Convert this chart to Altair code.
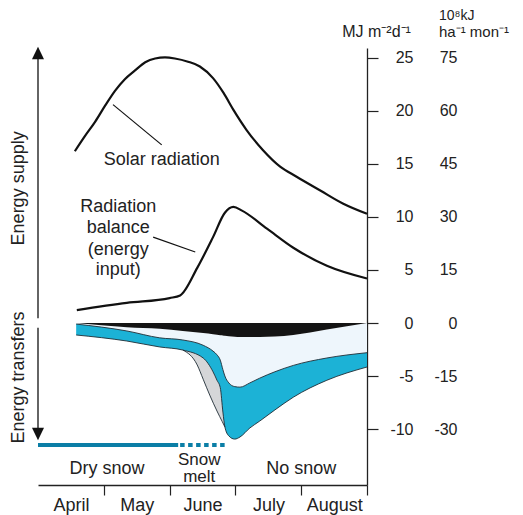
import altair as alt
import pandas as pd

# ---------------- data (x = months since 1 April, y = MJ m-2 d-1) ----------------
MONTHS = ["April", "May", "June", "July", "August"]
MONTH_TICKS = [0, 1, 2, 3, 4, 5]
Y_TICKS = [-10, -5, 0, 5, 10, 15, 20, 25]

solar_m = [0.56, 0.71, 0.87, 1.02, 1.17, 1.32, 1.47, 1.63, 1.78, 1.93, 2.08, 2.28, 2.46,
           2.66, 2.82, 2.97, 3.17, 3.42, 3.68, 3.93, 4.29, 4.64, 5.0]
solar_v = [16.2, 17.6, 19.0, 20.5, 21.9, 23.0, 23.8, 24.6, 24.95, 25.05, 24.95, 24.65, 24.2,
           23.1, 21.7, 20.1, 18.2, 16.3, 14.75, 13.8, 12.5, 11.25, 10.3]

balance_m = [0.59, 1.35, 2.0, 2.16, 2.42, 2.66, 2.84, 2.97, 3.10, 3.48, 3.88, 4.39, 5.0]
balance_v = [1.22, 1.9, 2.35, 2.6, 5.2, 8.1, 10.4, 10.95, 10.6, 8.9, 7.1, 5.4, 4.2]

band_m = [0.58, 1.35, 1.85, 2.20, 2.51, 2.66, 2.72, 2.77, 2.81, 2.84, 2.90, 2.99, 3.07,
          3.22, 3.37, 3.60, 3.88, 4.39, 5.0]
black_v = [0.0, -0.40, -0.55, -0.75, -0.95, -1.05, -1.10, -1.15, -1.17, -1.20, -1.25, -1.30,
           -1.32, -1.33, -1.32, -1.28, -1.13, -0.62, 0.0]
upper_v = [-0.10, -0.75, -1.40, -1.60, -2.10, -2.65, -3.00, -3.50, -4.40, -5.00, -5.65, -6.00,
           -6.05, -5.65, -5.20, -4.60, -4.00, -3.30, -2.80]
lower_v = [-1.13, -1.70, -2.26, -2.55, -3.30, -4.60, -5.40, -6.10, -8.40, -9.80, -10.65, -10.95,
           -10.75, -9.90, -9.25, -8.20, -7.00, -5.40, -4.15]
zero_v = [0.0] * len(band_m)

gray_m = [2.20, 2.42, 2.51, 2.61, 2.72, 2.80, 2.84]
gray_outer = [-2.55, -3.96, -5.30, -6.80, -8.30, -9.30, -9.80]
gray_inner = [-2.40, -2.80, -3.00, -3.50, -4.50, -6.00, -9.00]

labels_text = ["Solar radiation", "Radiation", "balance", "(energy", "input)",
               "Dry snow", "No snow"]
labels_m = [1.88, 1.22, 1.22, 1.22, 1.22, 1.05, 4.0]
labels_v = [14.9, 10.5, 8.5, 6.4, 4.5, -14.25, -14.25]

melt_text = ["Snow", "melt"]
melt_m = [2.45, 2.45]
melt_v = [-13.35, -15.0]

side_text = ["Energy supply", "Energy transfers"]
side_m = [-0.29, -0.29]
side_v = [12.7, -5.14]

leader_m = [1.14, 1.75]
leader_m2 = [1.88, 2.39]
leader_v = [20.6, 8.1]
leader_v2 = [16.8, 6.7]

arrow_m = [0.0, 0.0]
arrow_v = [0.45, -0.45]
arrow_v2 = [25.0, -10.0]
head_up = (0.0, 25.47)
head_down = (0.0, -10.47)

snow_solid = (0.0, 2.13, -11.5)
snow_melt = (2.16, 2.86, -11.5)

unit_left = ["MJ m\u207b\u00b2d\u207b\u00b9"]
unit_left_pos = (5.145, 26.98)
unit_top = ["10\u2078kJ"]
unit_top_pos = (6.094, 28.58)
unit_bottom = ["ha\u207b\u00b9 mon\u207b\u00b9"]
unit_bottom_pos = (6.094, 26.98)

# ---------------- styling ----------------
FONT = "Liberation Sans"
INK = "#222222"
BLUE = "#1cb2d6"
LIGHT = "#eef6fc"
GRAY = "#d5d6d8"
TEAL = "#0b7ea6"
OUTLINE = "#1f2d36"

XS = alt.Scale(domain=[0, 5], nice=False, zero=False)
YS = alt.Scale(domain=[-15.28, 25.94], nice=False, zero=False)

x_axis = alt.Axis(
    values=MONTH_TICKS,
    labelExpr="['April','May','June','July','August',''][datum.value]",
    labelOffset=33, labelFlush=False, labelPadding=1,
    labelFont=FONT, labelFontSize=18, labelColor=INK,
    tickSize=10, tickColor=INK, tickWidth=1.2,
    tickOpacity={"condition": {"test": "datum.value === 0", "value": 0}, "value": 1},
    domainColor=INK, domainWidth=1.3, grid=False, title=None, labelOverlap=False)

y_axis = alt.Axis(
    values=Y_TICKS, orient="right", labelExpr="'' + datum.value",
    labelAlign="right", labelBaseline="middle", labelPadding=35,
    labelFont=FONT, labelFontSize=16, labelColor=INK,
    tickSize=11, tickColor=INK, tickWidth=1.2,
    domainColor=INK, domainWidth=1.3, grid=False, title=None, labelOverlap=False)

y_axis2 = alt.Axis(
    values=Y_TICKS, orient="right", labelExpr="'' + (datum.value * 3)",
    labelAlign="right", labelBaseline="middle", labelPadding=90,
    labelFont=FONT, labelFontSize=16, labelColor=INK,
    ticks=False, tickSize=0, domain=False, grid=False, title=None, labelOverlap=False)


def X(field="m"):
    return alt.X(f"{field}:Q", scale=XS, axis=x_axis)


def Y(field):
    return alt.Y(f"{field}:Q", scale=YS, axis=None)


def one(text, pos):
    return pd.DataFrame({"t": text, "m": [pos[0]], "v": [pos[1]]})


band = pd.DataFrame({"m": band_m, "b": black_v, "u": upper_v, "l": lower_v, "z": zero_v})
gray = pd.DataFrame({"m": gray_m, "g": gray_outer, "i": gray_inner})
solar = pd.DataFrame({"m": solar_m, "v": solar_v})
balance = pd.DataFrame({"m": balance_m, "v": balance_v})

light_area = alt.Chart(band).mark_area(color=LIGHT, interpolate="monotone").encode(
    x=X(), y=Y("b"), y2="u:Q")
gray_area = alt.Chart(gray).mark_area(color=GRAY, interpolate="monotone").encode(
    x=X(), y=Y("g"), y2="i:Q")
blue_area = alt.Chart(band).mark_area(color=BLUE, interpolate="monotone").encode(
    x=X(), y=Y("u"), y2="l:Q")
black_area = alt.Chart(band).mark_area(color="#141414", interpolate="monotone").encode(
    x=X(), y=Y("z"), y2="b:Q")
upper_line = alt.Chart(band).mark_line(color=OUTLINE, strokeWidth=0.9, interpolate="monotone").encode(
    x=X(), y=Y("u"))
lower_line = alt.Chart(band).mark_line(color=OUTLINE, strokeWidth=0.9, interpolate="monotone").encode(
    x=X(), y=Y("l"))
gray_line = alt.Chart(gray).mark_line(color=OUTLINE, strokeWidth=0.9, interpolate="monotone").encode(
    x=X(), y=Y("g"))

solar_line = alt.Chart(solar).mark_line(color="#111111", strokeWidth=2.2, interpolate="monotone").encode(
    x=X(), y=alt.Y("v:Q", scale=YS, axis=y_axis))
second_axis = alt.Chart(solar).mark_line(opacity=0).encode(
    x=X(), y=alt.Y("v:Q", scale=YS, axis=y_axis2))
balance_line = alt.Chart(balance).mark_line(color="#111111", strokeWidth=2.2, interpolate="monotone").encode(
    x=X(), y=Y("v"))

leaders = alt.Chart(pd.DataFrame({"m": leader_m, "m2": leader_m2, "v": leader_v, "v2": leader_v2})).mark_rule(
    color="#111111", strokeWidth=1.2).encode(x=X(), x2="m2:Q", y=Y("v"), y2="v2:Q")

arrows = alt.Chart(pd.DataFrame({"m": arrow_m, "v": arrow_v, "v2": arrow_v2})).mark_rule(
    color="#111111", strokeWidth=1.3).encode(x=X(), y=Y("v"), y2="v2:Q")
head1 = alt.Chart(pd.DataFrame({"m": [head_up[0]], "v": [head_up[1]]})).mark_point(
    shape="M0,-1L0.95,1L-0.95,1Z", filled=True, color="#111111", size=160, opacity=1).encode(x=X(), y=Y("v"))
head2 = alt.Chart(pd.DataFrame({"m": [head_down[0]], "v": [head_down[1]]})).mark_point(
    shape="M0,1L0.95,-1L-0.95,-1Z", filled=True, color="#111111", size=160, opacity=1).encode(x=X(), y=Y("v"))

snow1 = alt.Chart(pd.DataFrame({"m": [snow_solid[0]], "m2": [snow_solid[1]], "v": [snow_solid[2]]})).mark_rule(
    color=TEAL, strokeWidth=4).encode(x=X(), x2="m2:Q", y=Y("v"))
snow2 = alt.Chart(pd.DataFrame({"m": [snow_melt[0]], "m2": [snow_melt[1]], "v": [snow_melt[2]]})).mark_rule(
    color=TEAL, strokeWidth=4, strokeDash=[4.5, 3.5]).encode(x=X(), x2="m2:Q", y=Y("v"))

labels = alt.Chart(pd.DataFrame({"t": labels_text, "m": labels_m, "v": labels_v})).mark_text(
    font=FONT, fontSize=18, color=INK, align="center", baseline="alphabetic").encode(
    x=X(), y=Y("v"), text="t:N")
melt = alt.Chart(pd.DataFrame({"t": melt_text, "m": melt_m, "v": melt_v})).mark_text(
    font=FONT, fontSize=17, color=INK, align="center", baseline="alphabetic").encode(
    x=X(), y=Y("v"), text="t:N")
side = alt.Chart(pd.DataFrame({"t": side_text, "m": side_m, "v": side_v})).mark_text(
    font=FONT, fontSize=18, color=INK, align="center", baseline="middle", angle=270).encode(
    x=X(), y=Y("v"), text="t:N")
unit1 = alt.Chart(one(unit_left, unit_left_pos)).mark_text(
    font=FONT, fontSize=16, color=INK, align="center", baseline="alphabetic").encode(
    x=X(), y=Y("v"), text="t:N")
unit2 = alt.Chart(one(unit_top, unit_top_pos)).mark_text(
    font=FONT, fontSize=14, color=INK, align="left", baseline="alphabetic").encode(
    x=X(), y=Y("v"), text="t:N")
unit3 = alt.Chart(one(unit_bottom, unit_bottom_pos)).mark_text(
    font=FONT, fontSize=15, color=INK, align="left", baseline="alphabetic").encode(
    x=X(), y=Y("v"), text="t:N")

chart = alt.layer(
    solar_line, second_axis,
    light_area, gray_area, blue_area, black_area,
    upper_line, lower_line, gray_line,
    balance_line, leaders, arrows, head1, head2, snow1, snow2,
    labels, melt, side, unit1, unit2, unit3,
).resolve_scale(y="independent").properties(
    width=329, height=437,
    autosize=alt.AutoSizeParams(type="none"),
    padding={"left": 30, "top": 40, "right": 146, "bottom": 36},
).configure_view(stroke=None)

chart.save("out.html", embed_options={"renderer": "svg", "actions": False})
